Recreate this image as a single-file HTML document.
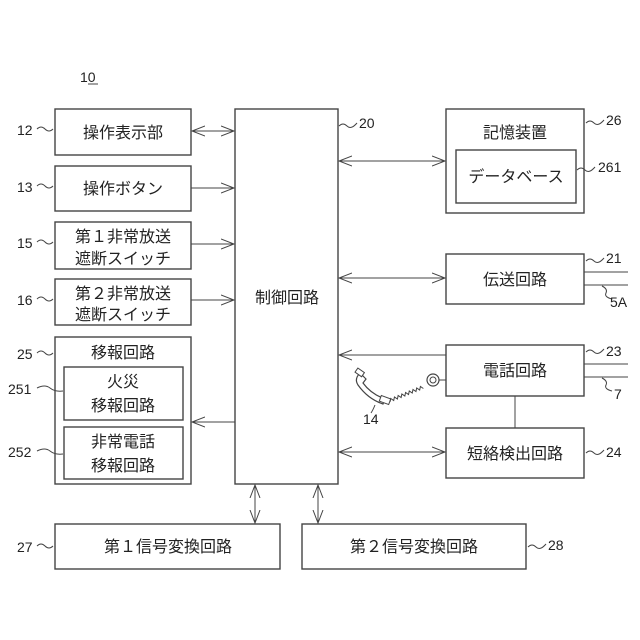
<!DOCTYPE html>
<html><head><meta charset="utf-8"><style>
html,body{margin:0;padding:0;background:#fff}
svg{display:block}
text{font-family:"Liberation Sans","Noto Sans CJK JP",sans-serif;fill:#222}
.b{font-size:16px;text-anchor:middle}
.n{font-size:14px}
</style></head><body>
<svg width="640" height="640" viewBox="0 0 640 640" xmlns="http://www.w3.org/2000/svg">
<defs>
<marker id="a" markerWidth="14" markerHeight="12" refX="13" refY="6" orient="auto-start-reverse" markerUnits="userSpaceOnUse">
<path d="M0,1 L13,6 L0,11" fill="none" stroke="#444" stroke-width="1"/>
</marker>
</defs>
<g fill="none" stroke="#444" stroke-width="1.4">
<rect x="55" y="109" width="136" height="46"/>
<rect x="55" y="166" width="136" height="45"/>
<rect x="55" y="222" width="136" height="47"/>
<rect x="55" y="279" width="136" height="46"/>
<rect x="55" y="337" width="136" height="147"/>
<rect x="64" y="367" width="119" height="53"/>
<rect x="64" y="427" width="119" height="52"/>
<rect x="235" y="109" width="103" height="375"/>
<rect x="446" y="109" width="138" height="104"/>
<rect x="456" y="150" width="120" height="53"/>
<rect x="446" y="254" width="138" height="50"/>
<rect x="446" y="345" width="138" height="51"/>
<rect x="446" y="428" width="138" height="50"/>
<rect x="55" y="524" width="225" height="45"/>
<rect x="302" y="524" width="224" height="45"/>
</g>
<g stroke="#444" stroke-width="1" fill="none">
<line x1="192" y1="131" x2="234" y2="131" marker-start="url(#a)" marker-end="url(#a)"/>
<line x1="191" y1="188" x2="234" y2="188" marker-end="url(#a)"/>
<line x1="191" y1="244" x2="234" y2="244" marker-end="url(#a)"/>
<line x1="191" y1="300" x2="234" y2="300" marker-end="url(#a)"/>
<line x1="235" y1="422" x2="192" y2="422" marker-end="url(#a)"/>
<line x1="339" y1="161" x2="445" y2="161" marker-start="url(#a)" marker-end="url(#a)"/>
<line x1="339" y1="278" x2="445" y2="278" marker-start="url(#a)" marker-end="url(#a)"/>
<line x1="446" y1="355" x2="339" y2="355" marker-end="url(#a)"/>
<line x1="339" y1="452" x2="445" y2="452" marker-start="url(#a)" marker-end="url(#a)"/>
<line x1="255" y1="485" x2="255" y2="523" marker-start="url(#a)" marker-end="url(#a)"/>
<line x1="318" y1="485" x2="318" y2="523" marker-start="url(#a)" marker-end="url(#a)"/>
<line x1="515" y1="396" x2="515" y2="428"/>
<line x1="584" y1="272" x2="628" y2="272"/>
<line x1="584" y1="285" x2="628" y2="285"/>
<line x1="584" y1="364" x2="628" y2="364"/>
<line x1="584" y1="377" x2="628" y2="377"/>
<path d="M37,129 q4,-4 8,0 t8,0"/>
<path d="M37,186 q4,-4 8,0 t8,0"/>
<path d="M37,242 q4,-4 8,0 t8,0"/>
<path d="M37,299 q4,-4 8,0 t8,0"/>
<path d="M37,353 q4,-4 8,0 t8,0"/>
<path d="M37,388 q8,-4 13,0 t13,3"/>
<path d="M37,451 q8,-4 13,0 t13,3"/>
<path d="M37,546 q4,-4 8,0 t8,0"/>
<path d="M339,126 q4,-4 8,0 t10,-3"/>
<path d="M586,123 q4,-4 8,0 t10,-3"/>
<path d="M577,170 q4,-4 8,0 t10,-3"/>
<path d="M586,261 q4,-4 8,0 t10,-3"/>
<path d="M586,352 q4,-4 8,0 t10,-3"/>
<path d="M586,453 q4,-4 8,0 t10,-3"/>
<path d="M528,547 q4,-4 8,0 t10,-3"/>
<path d="M602,286 q6,3 4,7 t6,6"/>
<path d="M602,378 q6,3 4,7 t6,6"/>
<path d="M375,405 q-2,5 -4,8"/>
<line x1="88" y1="84" x2="98" y2="84" stroke-width="1"/>
<path d="M360,373 q-6,6 -2,12 q10,14 25,19 l2,-5 q-14,-5 -22,-16 l3,-4 z" fill="#fff" stroke-width="1.2"/>
<rect x="356" y="370" width="8" height="5" transform="rotate(35 360 372)" fill="#fff"/>
<rect x="380" y="397" width="10" height="6" transform="rotate(20 385 400)" fill="#fff"/>
<g transform="translate(390,402) rotate(-22)">
<path d="M0,0 l2,-3 l2,3 l2,-3 l2,3 l2,-3 l2,3 l2,-3 l2,3 l2,-3 l2,3 l2,-3 l2,3 l2,-3 l2,3 l2,-3 l2,3 l2,-3 l2,3" stroke-width="1"/>
</g>
<circle cx="433" cy="380" r="6" stroke-width="1.2"/>
<circle cx="433" cy="380" r="3" stroke-width="1"/>
<line x1="439" y1="380" x2="446" y2="380"/>
</g>
<text class="b" x="123" y="138">操作表示部</text>
<text class="b" x="123" y="194">操作ボタン</text>
<text class="b" x="123" y="242">第１非常放送</text>
<text class="b" x="123" y="264">遮断スイッチ</text>
<text class="b" x="123" y="299">第２非常放送</text>
<text class="b" x="123" y="320">遮断スイッチ</text>
<text class="b" x="123" y="358">移報回路</text>
<text class="b" x="123" y="387">火災</text>
<text class="b" x="123" y="411">移報回路</text>
<text class="b" x="123" y="447">非常電話</text>
<text class="b" x="123" y="471">移報回路</text>
<text class="b" x="287" y="303">制御回路</text>
<text class="b" x="515" y="138">記憶装置</text>
<text class="b" x="516" y="182">データベース</text>
<text class="b" x="515" y="285">伝送回路</text>
<text class="b" x="515" y="376">電話回路</text>
<text class="b" x="515" y="459">短絡検出回路</text>
<text class="b" x="168" y="552">第１信号変換回路</text>
<text class="b" x="414" y="552">第２信号変換回路</text>
<text class="n" x="80" y="82">10</text>
<text class="n" x="17" y="135">12</text>
<text class="n" x="17" y="192">13</text>
<text class="n" x="17" y="248">15</text>
<text class="n" x="17" y="305">16</text>
<text class="n" x="17" y="359">25</text>
<text class="n" x="8" y="394">251</text>
<text class="n" x="8" y="457">252</text>
<text class="n" x="17" y="552">27</text>
<text class="n" x="359" y="128">20</text>
<text class="n" x="606" y="125">26</text>
<text class="n" x="598" y="172">261</text>
<text class="n" x="606" y="263">21</text>
<text class="n" x="610" y="307">5A</text>
<text class="n" x="606" y="356">23</text>
<text class="n" x="614" y="399">7</text>
<text class="n" x="606" y="457">24</text>
<text class="n" x="548" y="550">28</text>
<text class="n" x="363" y="424">14</text>
</svg>
</body></html>
